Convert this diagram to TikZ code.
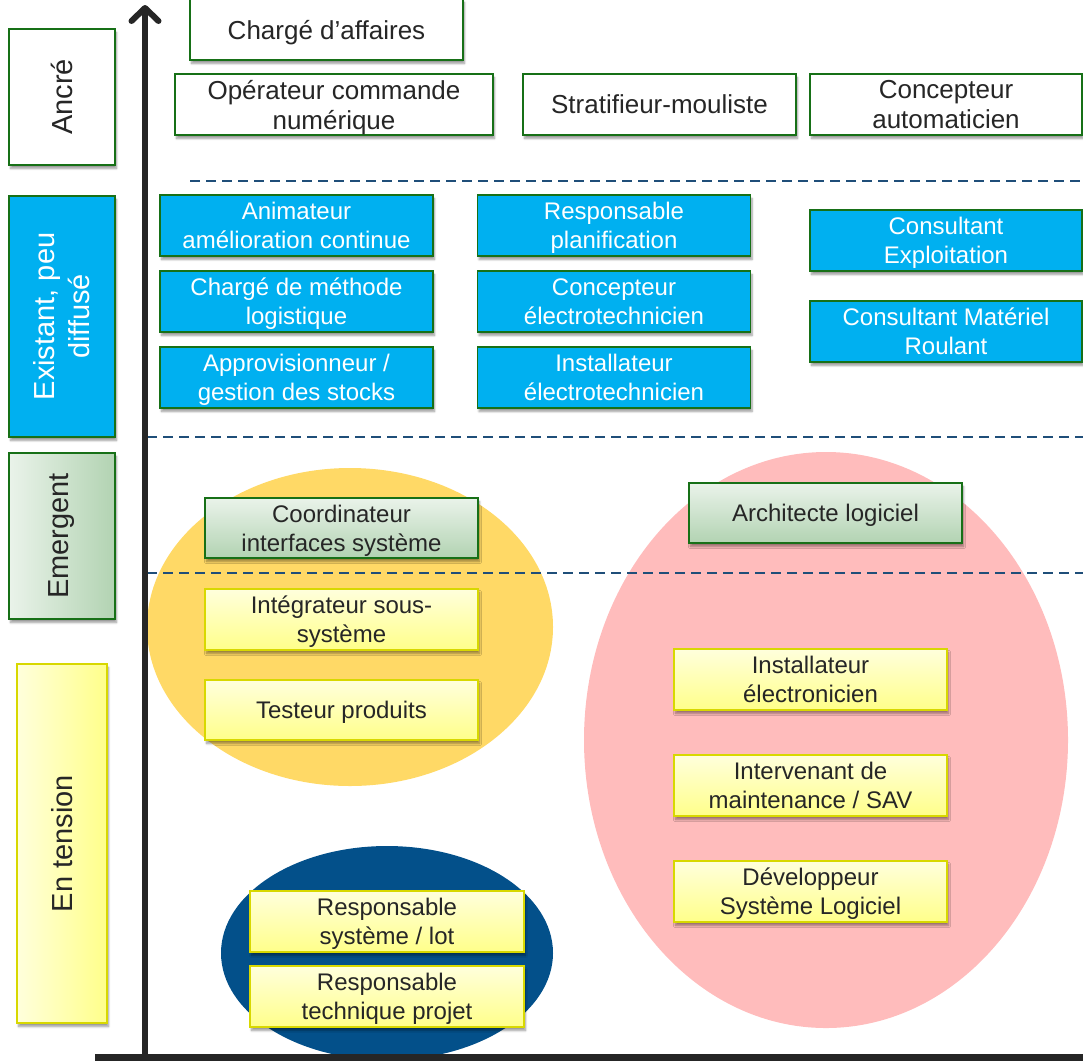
\documentclass[tikz,border=0pt]{standalone}
\usepackage{fontspec}
\setmainfont{Liberation Sans}
\usetikzlibrary{arrows.meta,shadows.blur}

\definecolor{boxgreen}{HTML}{177017}
\definecolor{txtgray}{HTML}{262626}
\definecolor{rareblue}{HTML}{00B0F0}
\definecolor{emtop}{HTML}{EAF3EA}
\definecolor{embottom}{HTML}{B2D3B2}
\definecolor{hottop}{HTML}{FFFFDC}
\definecolor{hotbottom}{HTML}{FFFF8A}
\definecolor{hotedge}{HTML}{D8D800}
\definecolor{dashblue}{HTML}{1F4E79}
\definecolor{goldfill}{HTML}{FFD966}
\definecolor{pinkfill}{HTML}{FFBCBC}
\definecolor{navyfill}{HTML}{03508A}

\begin{document}
\begin{tikzpicture}[x=1pt,y=-1pt,
  soft/.style={blur shadow={shadow xshift=1.5pt,shadow yshift=-3.5pt,
      shadow opacity=40,shadow blur steps=6}},
  job/.style={soft,draw=boxgreen,line width=1.6pt,minimum width=273pt,
    minimum height=61pt,inner sep=0pt,align=center,text=txtgray,
    text depth=0pt,font=\fontsize{24}{29}\selectfont},
  anchored/.style={job,fill=white,font=\fontsize{26}{30}\selectfont},
  rare/.style={job,fill=rareblue,text=white},
  emerging/.style={job,top color=emtop,bottom color=embottom},
  strained/.style={job,draw=hotedge,top color=hottop,bottom color=hotbottom},
  level/.style={soft,draw=boxgreen,line width=1.6pt,rotate=90,inner sep=0pt,
    align=center,text=txtgray,font=\fontsize{29}{35}\selectfont},
  divider/.style={draw=dashblue,line width=2pt,dash pattern=on 10pt off 6pt}]
  \useasboundingbox (0,0) rectangle (1083,1061);

  % clusters behind everything
  \fill[goldfill] (350,627) ellipse [x radius=203,y radius=159];
  \fill[pinkfill] (826,740) ellipse [x radius=242,y radius=288];
  \fill[navyfill] (387,953) ellipse [x radius=166,y radius=107];

  % level separators
  \draw[divider] (190,181) -- (1083,181);
  \draw[divider] (147,437) -- (1083,437);
  \draw[divider] (147,573) -- (1083,573);

  % levels on the left
  \node[level,fill=white,minimum width=136pt,minimum height=106pt]
    (ancre) at (62,97) {Ancré};
  \node[level,fill=rareblue,text=white,minimum width=241pt,minimum height=106pt]
    (existant) at (62,316.5) {Existant, peu\\diffusé};
  \node[level,left color=emtop,right color=embottom,shading angle=90,
    minimum width=166pt,minimum height=106pt]
    (emergent) at (62,536) {Emergent};
  \node[level,draw=hotedge,left color=hottop,right color=hotbottom,shading angle=90,
    minimum width=359pt,minimum height=90pt]
    (entension) at (62,843.5) {En tension};

  % anchored jobs
  \node[anchored] (affaires) at (326.5,29.5) {Chargé d’affaires};
  \node[anchored,minimum width=318pt] (operateur) at (334,104.5)
    {Opérateur commande\\numérique};
  \node[anchored] (stratifieur) at (659.5,104.5) {Stratifieur-mouliste};
  \node[anchored,minimum width=272pt] (automaticien) at (946,104.5)
    {Concepteur\\automaticien};

  % existing, not widespread
  \node[rare] (animateur) at (296.5,225.5) {Animateur\\amélioration continue};
  \node[rare] (methode) at (296.5,301.5) {Chargé de méthode\\logistique};
  \node[rare] (appro) at (296.5,377.5) {Approvisionneur /\\gestion des stocks};
  \node[rare] (planif) at (614,225.5) {Responsable\\planification};
  \node[rare] (conceptelec) at (614,301.5) {Concepteur\\électrotechnicien};
  \node[rare] (installelec) at (614,377.5) {Installateur\\électrotechnicien};
  \node[rare,minimum width=272pt] (exploit) at (946,240.5) {Consultant\\Exploitation};
  \node[rare,minimum width=272pt] (roulant) at (946,331.5)
    {Consultant Matériel\\Roulant};

  % emerging
  \node[emerging,minimum height=60pt] (coord) at (341.5,528)
    {Coordinateur\\interfaces système};
  \node[emerging,minimum height=60pt] (archi) at (825.5,513) {Architecte logiciel};

  % under pressure
  \node[strained] (integ) at (341.5,619.5) {Intégrateur sous-\\système};
  \node[strained,minimum height=60pt] (testeur) at (341.5,710) {Testeur produits};
  \node[strained] (electro) at (810.5,679.5) {Installateur\\électronicien};
  \node[strained] (sav) at (810.5,785.5) {Intervenant de\\maintenance / SAV};
  \node[strained] (dev) at (810.5,891.5) {Développeur\\Système Logiciel};
  \node[strained,minimum width=274pt] (lot) at (387,921.5)
    {Responsable\\système / lot};
  \node[strained,minimum width=274pt] (projet) at (387,996.5)
    {Responsable\\technique projet};

  % axes
  \coordinate (origin) at (145,1057);
  \coordinate (top) at (145,5);
  \coordinate (left) at (95,1057);
  \coordinate (right) at (1083,1057);
  \draw[txtgray,line width=7pt] (left) -- (right);
  \draw[txtgray,line width=6pt,
    -{Straight Barb[length=13pt,width=27pt,line cap=round,line join=round]}]
    (origin) -- (top);
\end{tikzpicture}
\end{document}
